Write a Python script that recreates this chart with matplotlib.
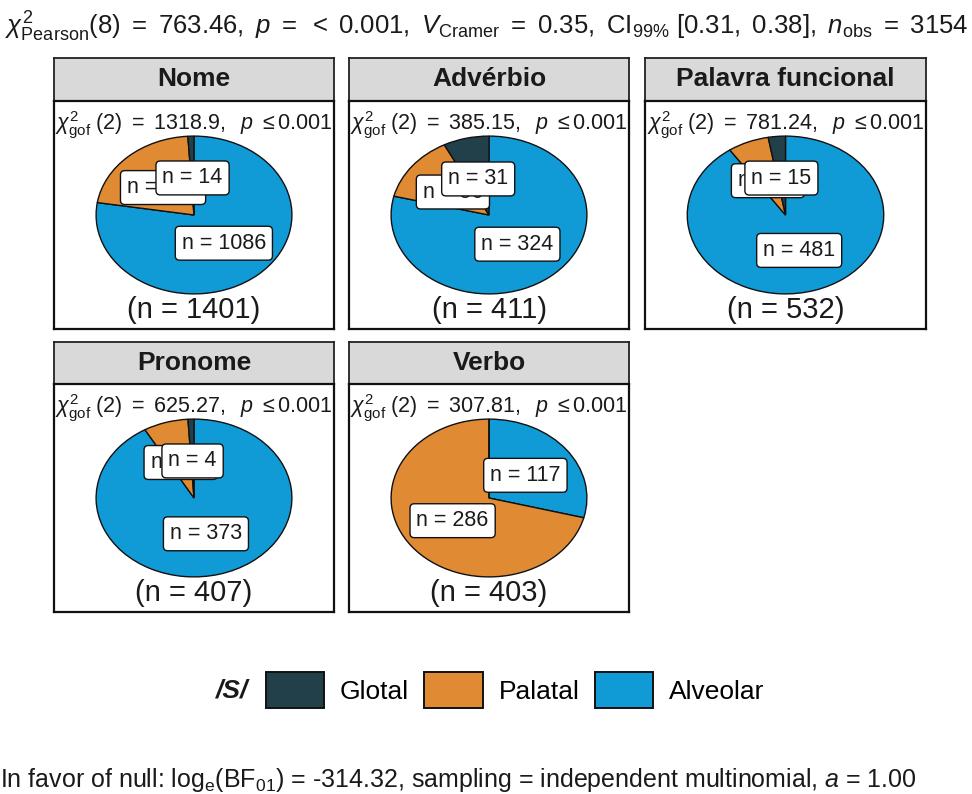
import numpy as np
import matplotlib
matplotlib.use("Agg")
import matplotlib.pyplot as plt
from matplotlib.patches import Patch

plt.rcParams["font.family"] = ["Liberation Sans", "DejaVu Sans"]
plt.rcParams["mathtext.fontset"] = "custom"
plt.rcParams["mathtext.rm"] = "Liberation Sans"
plt.rcParams["mathtext.it"] = "Liberation Sans:italic"
plt.rcParams["mathtext.bf"] = "Liberation Sans:bold"


# counts of /S/ realisations per word class
panels = ["Nome", "Advérbio", "Palavra funcional", "Pronome", "Verbo"]
alveolar = [1086, 324, 481, 373, 117]
palatal = [301, 56, 36, 30, 286]
glotal = [14, 31, 15, 4, 0]
chi2_gof = ["1318.9", "385.15", "781.24", "625.27", "307.81"]

legend_labels = ["Glotal", "Palatal", "Alveolar"]
col = {"Glotal": "#22404A", "Palatal": "#E08A33", "Alveolar": "#109BD6"}

W, H = 972, 794

# facet boxes in pixels: (x0, x1) per column, (strip top, panel top, panel bottom) per row
cols_px = [(54, 334), (349, 629), (645, 926)]
rows_px = [(58, 101, 329), (342, 384, 612)]


def _rect(x0, x1, y0, y1):
  return [x0 / W, 1 - y1 / H, (x1 - x0) / W, (y1 - y0) / H]


def _facet(fig, i):
  """
  Draw one facet: strip, pie, count labels, stats line.
  """
  x0, x1 = cols_px[i % 3]
  ys, yp, yb = rows_px[i // 3]

  st = fig.add_axes(_rect(x0, x1, ys, yp))
  st.set_facecolor("#D9D9D9")
  st.set_xticks([])
  st.set_yticks([])
  for s in st.spines.values():
    s.set_linewidth(1.3)
    s.set_color("#222222")
  st.text(0.5, 0.5, panels[i], ha="center", va="center",
          fontsize=19, fontweight="bold", color="#1a1a1a")

  ax = fig.add_axes(_rect(x0, x1, yp, yb))
  vals = [alveolar[i], palatal[i], glotal[i]]
  names = ["Alveolar", "Palatal", "Glotal"]
  wedges, _ = ax.pie(vals, colors=[col[n] for n in names], startangle=90,
                     counterclock=False, frame=True,
                     wedgeprops=dict(edgecolor="#111111", linewidth=1.0))
  ax.set_aspect("auto")
  ax.set_xlim(-1.43, 1.43)
  ax.set_ylim(-1.445, 1.445)
  ax.set_xticks([])
  ax.set_yticks([])
  for s in ax.spines.values():
    s.set_linewidth(1.6)
    s.set_color("#111111")

  for w, v in zip(wedges, vals):
    if v == 0:
      continue
    mid = np.deg2rad((w.theta1 + w.theta2) / 2)
    ax.text(0.47 * np.cos(mid), 0.47 * np.sin(mid), f"n = {v}",
            ha="center", va="center", fontsize=15.5, color="#1a1a1a",
            bbox=dict(boxstyle="round,pad=0.3,rounding_size=0.2",
                      fc="white", ec="#111111", lw=1.0))

  ax.text(0, 1.14,
          r"$\chi^{2}_{\mathrm{gof}}\ (2)\ =\ " + chi2_gof[i] +
          r",\ \ p\ \leq 0.001$",
          ha="center", va="center", fontsize=15.5, color="#1a1a1a")
  ax.text(0, -1.2, f"(n = {sum(vals)})", ha="center", va="center",
          fontsize=21, color="#1a1a1a")


def main():
  fig = plt.figure(figsize=(W / 100, H / 100), dpi=100)

  fig.text(5 / W, 1 - 27 / H,
           r"$\chi^{2}_{\mathrm{Pearson}}(8)\ =\ 763.46,\ \mathit{p}\ =\ <\ 0.001,\ "
           r"\mathit{V}_{\mathrm{Cramer}}\ =\ 0.35,\ \mathrm{CI}_{99\%}\ [0.31,\ 0.38],\ "
           r"\mathit{n}_{\mathrm{obs}}\ =\ 3154$",
           ha="left", va="center", fontsize=18.5, color="#1a1a1a")

  for i in range(len(panels)):
    _facet(fig, i)

  hdl = [Patch(facecolor=col[n], edgecolor="#111111", linewidth=1.4)
         for n in legend_labels]
  fig.legend(hdl, legend_labels, loc="center", ncol=3,
             bbox_to_anchor=(515 / W, 1 - 690 / H), frameon=False,
             fontsize=19, handlelength=2.2, handleheight=1.7,
             handletextpad=0.6, columnspacing=0.6)
  fig.text(232 / W, 1 - 690 / H, "/S/", ha="center", va="center",
           fontsize=19, fontweight="bold", fontstyle="italic", color="#1a1a1a")

  fig.text(0 / W, 1 - 780 / H,
           r"In favor of null: $\mathrm{log}_{\mathrm{e}}(\mathrm{BF}_{01})$ = -314.32, "
           r"sampling = independent multinomial, $\mathit{a}$ = 1.00",
           ha="left", va="center", fontsize=18, color="#1a1a1a")

  fig.savefig("out.png", dpi=100)


if __name__ == "__main__":
  main()
